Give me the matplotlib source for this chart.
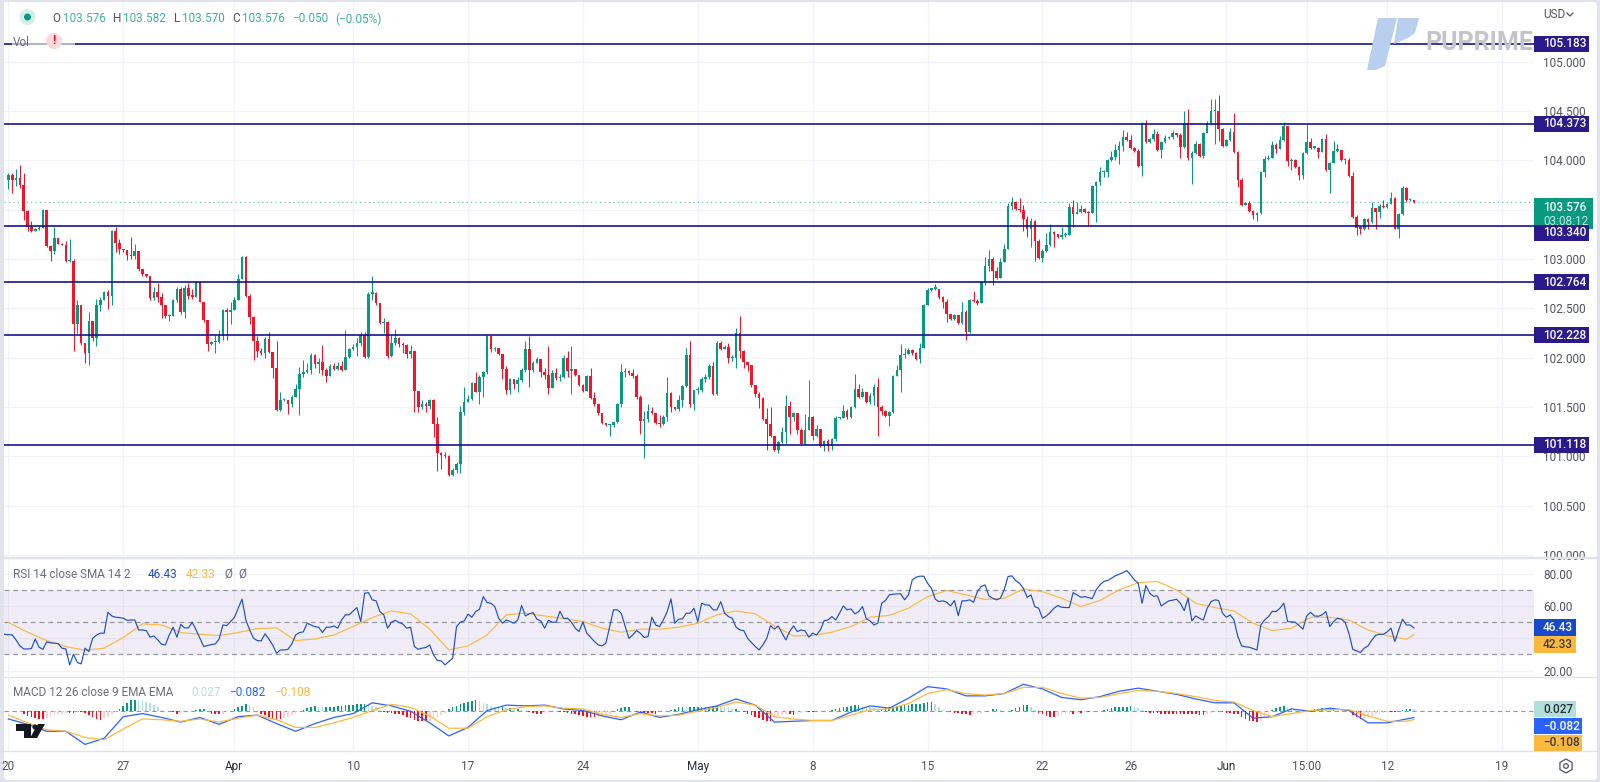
#!/usr/bin/env python3
import numpy as np
import matplotlib
matplotlib.use("Agg")
import matplotlib.pyplot as plt
from matplotlib.patches import Rectangle, Polygon, Circle, FancyBboxPatch, RegularPolygon
from matplotlib.transforms import IdentityTransform

plt.rcParams["font.family"] = ["Roboto", "DejaVu Sans"]

W, H = 1600, 782

COL_UP = "#089981"
COL_DOWN = "#f7142a"
COL_LEVEL = "#0a0a8c"
COL_TAG = "#2a1a8c"
COL_GRID = "#f0f3fa"
COL_SEP = "#e0e3eb"
COL_TEXT = "#50535e"
COL_RSI = "#1f4fcc"
COL_MACD = "#2962ff"
COL_ORANGE = "#fdb83e"

# 4h candles, the open of each one is the close before it
first_open = 103.80
closes = [
    103.85,103.80,103.82,103.75,103.49,103.33,103.28,103.30,103.32,103.50,103.13,103.08,103.21,103.15,103.14,
    102.98,102.98,102.34,102.53,102.15,102.05,102.37,102.20,102.53,102.58,102.67,102.63,103.28,103.16,103.10,103.09,
    103.04,103.03,103.08,102.90,102.85,102.83,102.61,102.67,102.62,102.53,102.42,102.42,102.58,102.70,102.46,
    102.71,102.63,102.62,102.77,102.56,102.38,102.14,102.16,102.16,102.22,102.48,102.46,102.48,102.59,102.80,
    103.02,102.63,102.41,102.17,102.07,102.05,102.19,102.06,101.90,101.47,101.57,101.57,101.53,101.60,101.68,101.83,
    101.85,101.88,102.03,101.94,101.96,101.88,101.81,101.92,101.89,101.92,101.88,102.01,102.09,102.11,102.15,102.23,
    102.01,102.65,102.66,102.55,102.35,102.36,102.02,102.15,102.20,102.14,102.13,102.04,102.07,101.66,101.50,
    101.53,101.51,101.57,101.33,101.03,101.01,101.00,100.81,100.86,100.92,101.45,101.55,101.58,101.74,101.65,101.80,
    101.85,102.22,102.09,102.10,102.04,101.89,
    101.67,101.78,101.73,101.77,101.88,102.09,101.88,101.95,101.99,101.85,101.82,101.69,101.84,101.79,
    101.80,102.00,101.87,101.89,101.82,101.72,101.66,101.81,101.59,101.53,101.44,101.34,101.32,101.32,101.35,101.53,
    101.85,101.86,101.84,101.81,101.60,101.36,101.38,101.46,101.44,101.34,101.33,101.40,101.64,101.50,101.48,101.57,
    101.71,102.03,101.53,101.67,101.67,101.78,101.80,101.92,101.63,102.15,102.09,102.11,102.00,102.00,102.25,102.07,
    101.96,101.93,101.72,101.63,101.59,101.38,101.33,101.21,101.06,101.15,101.25,101.51,101.40,101.44,101.27,101.12,
    101.27,101.40,101.21,101.28,101.10,101.16,101.10,101.18,101.39,101.39,101.46,101.40,101.50,101.68,101.60,
    101.65,101.55,101.61,101.70,101.50,101.46,101.41,101.45,101.81,101.88,102.03,102.04,102.08,102.05,101.99,102.10,
    102.53,102.69,102.70,102.70,102.62,102.56,102.44,102.39,102.43,102.35,102.46,102.26,102.58,102.57,
    102.55,102.77,
    102.93,103.00,102.88,102.81,102.97,103.10,103.54,103.58,103.51,103.50,103.41,103.30,103.39,103.18,
    103.01,103.08,103.14,103.27,103.25,103.22,103.24,103.24,103.53,103.46,103.48,103.51,103.48,103.47,103.74,
    103.78,103.88,103.88,104.00,104.04,104.11,104.15,104.24,104.21,104.13,104.10,103.94,104.38,104.19,104.22,104.27,
    104.11,104.19,104.23,104.24,104.28,104.26,104.14,104.38,104.03,104.08,104.17,104.05,104.28,104.38,104.50,104.50,
    104.32,104.15,104.21,104.29,104.09,103.80,103.55,103.57,103.49,103.45,103.47,103.88,104.01,104.03,104.16,104.12,
    104.21,104.35,103.99,104.00,103.93,103.85,104.08,104.19,104.13,104.13,104.09,104.22,103.90,103.97,104.10,
    104.11,104.00,104.00,103.84,103.43,103.32,103.31,103.41,103.38,103.52,103.48,103.54,103.53,103.56,103.62,103.31,
    103.46,103.72,103.60,103.60,103.576,
]
highs = [
    103.87,103.87,103.91,103.95,103.87,103.50,103.39,103.32,103.34,103.51,103.50,103.14,103.33,103.21,103.16,
    103.18,103.20,103.00,102.58,102.53,102.15,102.46,102.37,102.60,102.62,102.68,102.69,103.29,103.33,103.20,103.10,
    103.09,103.22,103.15,103.08,102.90,102.85,102.83,102.72,102.76,102.66,102.53,102.44,102.60,102.72,102.72,
    102.74,102.76,102.70,102.78,102.78,102.56,102.38,102.17,102.23,102.28,102.49,102.50,102.56,102.62,102.85,
    103.03,103.03,102.65,102.42,102.22,102.10,102.21,102.26,102.06,102.17,101.65,101.59,101.57,101.62,101.73,101.91,
    101.98,101.95,102.05,102.04,102.00,102.13,101.90,101.94,101.95,101.96,101.97,102.28,102.10,102.14,102.20,102.26,
    102.26,102.67,102.83,102.67,102.52,102.40,102.37,102.23,102.29,102.21,102.16,102.14,102.13,102.07,101.66,
    101.57,101.55,101.58,101.58,101.40,101.04,101.04,101.01,100.88,100.94,101.51,101.70,101.62,101.75,101.85,101.82,
    101.87,102.23,102.22,102.11,102.10,102.04,
    101.92,101.79,101.78,101.80,101.90,102.17,102.22,101.97,102.01,101.99,101.90,102.12,101.88,101.90,
    101.83,102.03,102.07,102.12,101.89,101.82,101.73,101.82,101.90,101.65,101.53,101.44,101.34,101.33,101.36,101.54,
    101.94,101.90,101.88,101.89,101.83,101.62,101.46,101.53,101.50,101.42,101.42,101.42,101.80,101.65,101.50,101.62,
    101.72,102.10,102.17,101.67,101.70,101.80,101.83,101.94,101.96,102.17,102.17,102.13,102.15,102.03,102.30,102.42,
    102.08,101.95,101.90,101.72,101.65,101.60,101.49,101.50,101.21,101.16,101.30,101.62,101.56,101.45,101.37,101.29,
    101.43,101.77,101.41,101.32,101.25,101.17,101.18,101.19,101.41,101.40,101.52,101.48,101.51,101.83,101.73,
    101.69,101.65,101.64,101.73,101.79,101.52,101.47,101.46,101.82,101.93,102.14,102.10,102.10,102.09,102.06,102.15,
    102.54,102.71,102.71,102.75,102.70,102.63,102.60,102.44,102.44,102.42,102.56,102.48,102.60,102.68,
    102.60,102.78,
    103.02,103.09,103.02,102.92,103.01,103.15,103.57,103.63,103.59,103.62,103.55,103.44,103.42,103.40,
    103.20,103.10,103.26,103.36,103.28,103.25,103.33,103.27,103.57,103.60,103.58,103.55,103.52,103.49,103.75,
    103.79,103.93,103.90,104.01,104.10,104.17,104.20,104.31,104.29,104.26,104.14,104.12,104.39,104.41,104.23,104.32,
    104.30,104.20,104.26,104.25,104.31,104.28,104.28,104.50,104.52,104.10,104.20,104.18,104.29,104.40,104.62,104.62,
    104.66,104.33,104.22,104.33,104.48,104.10,103.82,103.58,103.59,103.50,103.48,103.89,104.05,104.06,104.20,104.18,
    104.25,104.39,104.35,104.02,104.01,103.94,104.09,104.37,104.23,104.14,104.14,104.23,104.27,103.98,104.20,
    104.17,104.07,104.02,104.02,103.88,103.45,103.34,103.42,103.42,103.58,103.52,103.56,103.60,103.57,103.68,103.63,
    103.47,103.74,103.73,103.62,103.582,
]
lows = [
    103.71,103.67,103.74,103.72,103.40,103.28,103.27,103.28,103.29,103.32,103.12,102.98,103.05,103.15,103.14,
    102.97,102.97,102.07,102.25,102.13,101.95,101.93,102.17,102.12,102.47,102.60,102.49,102.53,103.07,103.05,103.07,
    102.99,103.00,103.00,102.88,102.83,102.82,102.58,102.58,102.56,102.40,102.40,102.37,102.42,102.56,102.44,
    102.40,102.60,102.60,102.62,102.56,102.36,102.07,102.13,102.05,102.15,102.18,102.18,102.34,102.50,102.58,
    102.85,102.62,102.34,101.98,102.01,102.03,102.00,102.05,101.79,101.46,101.46,101.56,101.43,101.50,101.60,101.42,
    101.80,101.84,101.83,101.90,101.84,101.82,101.75,101.81,101.88,101.88,101.87,101.88,102.00,102.08,102.02,102.12,
    102.00,102.00,102.58,102.53,102.34,102.25,102.00,102.01,102.13,102.11,102.05,102.00,102.00,101.45,101.45,
    101.48,101.45,101.48,101.20,100.85,100.87,100.98,100.80,100.80,100.83,100.83,101.42,101.55,101.57,101.65,101.53,
    101.60,101.83,102.06,102.07,102.03,101.78,
    101.63,101.63,101.68,101.65,101.75,101.85,101.70,101.85,101.97,101.80,101.78,101.63,101.69,101.77,
    101.76,101.79,101.80,101.63,101.81,101.71,101.65,101.66,101.58,101.51,101.42,101.33,101.31,101.21,101.30,101.34,
    101.50,101.80,101.82,101.79,101.58,101.23,100.98,101.35,101.43,101.33,101.30,101.32,101.36,101.45,101.47,101.46,
    101.50,101.70,101.50,101.47,101.63,101.65,101.75,101.78,101.62,101.62,102.08,102.10,101.95,101.97,101.90,102.00,
    101.90,101.87,101.70,101.60,101.49,101.37,101.06,101.20,101.05,101.03,101.13,101.13,101.23,101.36,101.23,101.12,
    101.12,101.28,101.17,101.20,101.09,101.05,101.05,101.06,101.16,101.38,101.39,101.38,101.39,101.49,101.59,
    101.60,101.54,101.53,101.52,101.21,101.42,101.40,101.31,101.44,101.81,101.65,102.00,102.04,102.03,101.98,101.95,
    102.10,102.53,102.68,102.69,102.60,102.50,102.36,102.38,102.38,102.34,102.34,102.18,102.25,102.56,
    102.53,102.55,
    102.74,102.88,102.74,102.80,102.81,102.97,103.10,103.50,103.50,103.48,103.28,103.22,103.12,102.98,
    103.00,102.97,103.07,103.13,103.12,103.21,103.20,103.22,103.24,103.33,103.47,103.47,103.47,103.34,103.47,
    103.38,103.75,103.83,103.83,103.99,104.00,103.96,104.10,104.20,104.12,104.09,103.93,103.84,104.18,104.18,104.20,
    104.10,104.03,104.18,104.22,104.22,104.24,104.03,104.13,104.00,103.76,104.07,104.04,104.02,104.28,104.36,104.17,
    104.20,104.14,104.15,104.20,104.08,103.73,103.54,103.55,103.48,103.41,103.39,103.46,103.83,104.00,104.03,104.08,
    104.12,104.20,103.94,103.90,103.92,103.80,103.81,104.07,104.12,104.12,104.02,104.09,103.89,103.67,103.97,
    104.09,103.99,103.96,103.83,103.42,103.24,103.25,103.29,103.30,103.37,103.30,103.42,103.52,103.52,103.56,103.30,
    103.21,103.45,103.58,103.59,103.570,
]

# horizontal levels and their labels
levels = [105.183, 104.373, 103.340, 102.764, 102.228, 101.118]
last_price = 103.576
price_ticks = [100.0, 100.5, 101.0, 101.5, 102.0, 102.5, 103.0, 103.5, 104.0, 104.5, 105.0]
price_labels = ["100.000", "100.500", "101.000", "101.500", "102.000", "102.500", "103.000", "", "104.000", "104.500", "105.000"]
rsi_ticks = [80, 60, 40, 20]
rsi_labels = ["80.00", "60.00", "", "20.00"]

# x axis, bar number and label
x_ticks = [0, 30, 59, 90, 120, 150, 180, 210, 240, 270, 293, 318, 339, 360, 390]
x_labels = ["20", "27", "Apr", "10", "17", "24", "May", "8", "15", "22", "26", "Jun", "15:00", "12", "19"]

rsi = [
    42.5,42.3,42.1,39,35.3,33.4,33.4,33.6,39.6,34.5,33.2,37.8,37.2,37,36.7,33.9,33.4,23.5,30.1,25,24.1,33.9,31.8,40,42,43.2,
    43.2,56.2,53.9,53.1,52.9,52.5,51.2,51.4,51.4,45.2,45.2,44.8,40.7,41.5,39,36.3,35.9,42.1,46.9,40.7,48.6,46.5,46.5,50,
    45.2,40,34.9,35.5,36.1,36.5,39.4,48.3,47.9,50.4,52.9,58.7,64.3,51.4,45.2,40,38.6,38.4,42.8,39.6,35.9,30.7,32.8,32.8,
    33.2,36.5,42.1,43.6,44,49.4,48.3,47.3,46.9,43.6,46.9,46.9,47.7,46.3,51.4,54.6,54.6,57,59.1,50.4,68,68.4,63.9,63.3,
    56.6,54.6,46.3,50,51.2,49.8,48.8,46.3,46.9,34.9,33.2,33.9,34.3,35.9,29.7,26.2,26,23.5,25.6,27.6,47.3,50,50.8,55,53.1,
    56.6,58.1,65.9,62.2,61.8,59.7,52.5,
    49.4,51.4,50.4,49.4,51.4,60.4,53.9,55.2,56,51.9,50.8,46.3,51.2,50,50,56.8,52.3,52.5,50,46.3,44.2,50.2,43.2,40.7,38,
    35.9,35.3,37,47.3,57.7,57.7,55.6,47.7,40,42.1,44.8,43.2,40.5,41.1,53.1,48.3,47.3,51.4,56.6,64.5,49.4,51.9,52.1,55.6,
    55.6,58.7,50.4,61.8,60.8,60.6,57.7,57.7,62.8,55.6,53.5,52.5,46.9,45.2,44.8,40,37.4,34.9,32.8,35.9,40,47.9,45.7,47.7,
    43.2,39,44.2,47.7,44.2,45.2,44.6,40.7,43.2,42.1,45.2,51,51.4,53.5,51.4,55.6,60.1,57.7,58.3,55.2,56.6,59.7,52.1,50.8,
    48.3,49.4,61.8,63.5,67,67.4,67.6,67.6,63.9,67,76.3,78,78.6,78.6,74.2,71.1,64.3,62.8,63.3,62.4,60.1,63.5,54.1,63.3,
    63.3,63.9,62.4,69,72.2,73.2,66.4,64.9,63.9,
    64.9,70.1,78.4,78.8,75.9,74.2,71.1,65.5,67,59.7,58.7,52.5,53.9,56,58.7,60.4,59.3,59.1,59.1,68.4,67,65.5,65.9,65.3,
    64.7,70.1,73.2,75.3,75.9,77.3,78.8,79.8,80.8,82.1,79.4,76.3,74.2,61.8,72.8,68,66.1,66.4,60.1,61.8,63.3,63.7,64.3,
    61.8,57.2,64.9,50.8,53.9,52.5,51.4,58.7,62.8,63.9,63.5,55.6,53.1,54.6,51.4,41.1,35.3,34.7,34.5,33.6,32.8,48.3,51.4,
    53.5,56.8,56.6,58.7,61.8,50.4,50.2,50,47.9,45.7,53.9,56.2,53.9,53.7,54.6,56.6,47.3,50.4,52.5,51.9,50,43.2,33.2,32.2,
    31.2,33.9,35.3,39,41.9,42.5,42.5,44,46.3,38,45.2,51.9,48.3,48.3,46.43,
]

# slower lines, read every 5th bar
slow_bars = list(range(0, 366, 5)) + [367]
rsi_sma = [
    49.8,43.8,38.6,34.9,32.6,33.9,40.5,49,48.3,43.6,42.5,41.7,43.6,46.1,46.5,38.6,39.6,42.1,47.3,52.9,57,55.2,45.7,32.8,35.3,42.1,
    54.6,55.6,53.9,52.3,50.4,46.3,43.8,45.7,45.7,46.9,49.4,54.6,57,55.2,47.7,41.5,41.7,43.8,47.3,53.1,54.3,58.7,65.9,69.7,67,64.1,
    64.9,70.7,69,64.9,59.7,63.5,70.1,74.6,75.3,70.1,61.8,59.1,57,49.4,44.8,46.3,53.1,53.1,51.4,45.2,41.7,39.4,42.33,
]
macd = [
    -.10,-.17,-.26,-.26,-.43,-.35,-.07,-.03,-.08,-.14,-.08,-.17,-.07,-.05,-.16,-.26,-.16,-.08,-.03,.11,.07,0,-.15,-.32,-.21,.01,
    .08,.07,.08,.03,.01,-.06,-.11,-.01,-.08,-.04,.02,.07,.16,.08,-.14,-.13,-.12,-.12,-.01,.07,.04,.17,.32,.29,.20,.20,
    .23,.35,.29,.18,.15,.19,.26,.30,.26,.22,.16,.11,.11,-.09,-.07,.03,0,.04,.01,-.15,-.15,-.10,-.082,
]
signal = [
    -.05,-.15,-.24,-.26,-.34,-.37,-.23,-.10,-.11,-.13,-.10,-.14,-.09,-.05,-.11,-.21,-.21,-.15,-.08,.01,.09,.05,-.06,-.22,-.22,-.07,
    .02,.06,.07,.04,.03,-.04,-.08,-.03,-.06,-.05,0,.05,.12,.08,-.07,-.10,-.12,-.12,-.05,.02,.03,.10,.23,.28,.23,.21,
    .23,.31,.31,.23,.17,.18,.23,.27,.26,.23,.19,.14,.12,.01,-.07,-.03,.01,.02,.02,-.06,-.13,-.13,-.108,
]
hist = [
    -.04,-.06,-.07,-.09,-.10,-.10,-.09,-.07,-.05,-.04,-.03,-.02,-.02,-.02,-.01,-.01,-.02,-.05,-.08,-.10,-.11,-.09,-.07,-.04,-.01,
    .03,.07,.11,.14,.15,.14,.13,.12,.11,.08,.05,.02,.01,.00,-.01,-.03,-.02,.00,.01,.01,.02,.03,.03,.01,-.03,-.04,-.04,-.03,-.01,
    .01,.03,.05,.07,.09,.08,.05,.02,-.03,-.05,-.07,-.09,-.10,-.10,-.09,-.07,-.05,-.03,-.01,.02,.04,.06,.07,.06,.05,.05,.06,.06,
    .07,.07,.08,.08,.08,.09,.09,.09,.08,.07,.05,.02,-.01,-.02,-.02,-.03,-.04,-.05,-.07,-.09,-.11,-.12,-.12,-.13,-.12,-.10,-.08,
    -.05,-.02,.03,.05,.07,.09,.11,.12,.13,.14,.13,.11,
    .09,.07,.06,.05,.05,.04,.04,.03,.03,.02,.01,-.01,-.02,-.03,-.03,-.02,-.01,0,0,-.01,-.01,-.02,-.03,-.04,-.05,-.06,-.07,-.08,
    -.08,-.07,-.06,-.05,-.03,0,.03,.04,.05,.05,0,-.01,-.02,-.02,-.02,-.02,-.03,0,.01,.01,.02,.03,.05,.06,.05,.05,.05,.05,.05,
    .06,.06,.07,.07,.06,.05,.04,.03,.03,0,-.01,-.03,-.05,-.07,-.09,-.11,-.12,-.12,-.09,-.06,-.05,-.04,-.04,-.05,-.03,-.02,-.01,
    -.01,-.01,0,0,0,.01,.02,.03,.04,.05,.06,.07,.08,.08,.07,.06,.05,.04,.03,.03,.04,.05,.06,.07,.07,.08,.08,.09,.09,.10,.11,.12,
    .12,.10,.06,.02,0,-.01,-.02,-.02,-.03,-.04,-.05,-.04,-.03,-.02,0,.01,.03,.03,.02,.01,
    .01,.02,.04,.06,.08,.08,.05,.02,-.02,-.04,-.06,-.07,-.07,-.06,-.05,-.04,-.03,-.03,-.02,-.02,-.01,-.01,0,.01,.01,.02,.03,.04,
    .05,.05,.06,.06,.07,.06,.04,.02,-.01,-.02,-.02,-.02,-.03,-.03,-.03,-.03,-.03,-.03,-.03,-.04,-.04,-.04,-.05,-.05,-.04,-.02,
    -.01,0,-.01,-.02,-.02,-.03,-.04,-.08,-.10,-.12,-.13,-.14,-.13,-.08,-.04,.02,.04,.05,.07,.05,.04,.02,.01,.01,.01,.02,.03,.03,
    .04,.03,.02,.02,.01,.01,0,.01,-.05,-.08,-.10,-.09,-.08,-.06,-.04,-.03,-.02,-.01,-.01,-.01,.01,.02,.03,.03,.027,
]


def pane(top, bottom):
    return [4 / W, 1 - bottom / H, 1530 / W, (bottom - top) / H]


def label(x, y, s, color=COL_TEXT, size=8.5, ha="left", **kwargs):
    return fig.text(x / W, 1 - y / H, s, color=color, fontsize=size, ha=ha, va="center", zorder=12, **kwargs)


def tag(ax, value, s, fc, tc="white", width=55, dy=0, height=16):
    yc = ax.transData.transform((0, value))[1] - dy
    fig.add_artist(Rectangle((1534, yc - height / 2), width, height, transform=IdentityTransform(),
                             facecolor=fc, edgecolor="none", zorder=10))
    label(1543, H - yc, s, color=tc, weight="medium")


def fig_poly(points, color, zorder=9):
    pts = [(x, H - y) for x, y in points]
    fig.add_artist(Polygon(pts, closed=True, transform=IdentityTransform(), facecolor=color,
                           edgecolor="none", zorder=zorder))


def fig_hline(y, color=COL_SEP, lw=1.0):
    fig.add_artist(plt.Line2D([4, 1597], [H - y, H - y], transform=IdentityTransform(), color=color, lw=lw, zorder=6))


def histogram_colors(values):
    cols = []
    prev = 0.0
    for v in values:
        if v >= 0:
            cols.append(COL_UP if v >= prev else "#b2dfdb")
        else:
            cols.append("#ff0a1a" if v <= prev else "#ffcdd2")
        prev = v
    return cols


fig = plt.figure(figsize=(W / 100, H / 100), dpi=100, facecolor=COL_SEP)
fig.add_artist(FancyBboxPatch((4, H - 780), 1593, 778, boxstyle="round,pad=0,rounding_size=4",
                              transform=IdentityTransform(), facecolor="white", edgecolor="none", zorder=-1))

ax_price = fig.add_axes(pane(2, 556))
ax_rsi = fig.add_axes(pane(558, 676))
ax_macd = fig.add_axes(pane(677, 750.7))

n = len(closes)
bars = np.arange(n) + (368 - n)
opens = np.array([first_open] + closes[:-1])
closes_a = np.array(closes)
highs_a = np.maximum(np.array(highs), np.maximum(opens, closes_a))
lows_a = np.minimum(np.array(lows), np.minimum(opens, closes_a))
up = closes_a >= opens
colors = [COL_UP if u else COL_DOWN for u in up]

xlim = (-1.15, 398.33)

# price pane
ax_price.vlines(bars, lows_a, highs_a, colors=colors, lw=0.75, zorder=3)
ax_price.bar(bars, np.maximum(np.abs(closes_a - opens), 0.012), bottom=np.minimum(opens, closes_a),
             width=0.68, color=colors, linewidth=0, zorder=4)
for lv in levels:
    ax_price.axhline(lv, color=COL_LEVEL, lw=1.15, zorder=5)
ax_price.axhline(last_price, color=COL_UP, lw=0.8, ls=(0, (1, 3)), alpha=0.7, zorder=2)
ax_price.set_ylim(99.989, 105.607)
ax_price.set_yticks(price_ticks)
ax_price.set_yticklabels(price_labels)

# rsi pane
ax_rsi.axhspan(30, 70, color="#7e57c2", alpha=0.1, lw=0, zorder=1)
for v in [70, 50, 30]:
    ax_rsi.axhline(v, color="#9598a1", lw=0.9, ls=(0, (4, 3)), zorder=2)
ax_rsi.plot(np.arange(len(rsi)) + (368 - len(rsi)), rsi, color=COL_RSI, lw=0.85, zorder=4)
ax_rsi.plot(slow_bars, rsi_sma, color=COL_ORANGE, lw=0.85, zorder=3)
ax_rsi.set_ylim(16.6, 89.9)
ax_rsi.set_yticks(rsi_ticks)
ax_rsi.set_yticklabels(rsi_labels)

# macd pane
ax_macd.axhline(0, color="#9598a1", lw=0.8, ls=(0, (4, 3)), zorder=2)
ax_macd.bar(np.arange(len(hist)) + (368 - len(hist)), hist, width=0.42, color=histogram_colors(hist), linewidth=0, zorder=3)
ax_macd.plot(slow_bars, macd, color=COL_MACD, lw=0.9, zorder=4)
ax_macd.plot(slow_bars, signal, color=COL_ORANGE, lw=0.9, zorder=4)
ax_macd.set_ylim(-0.512, 0.445)
ax_macd.set_yticks([])

for ax in (ax_price, ax_rsi, ax_macd):
    ax.set_xlim(*xlim)
    ax.set_xticks(x_ticks)
    ax.set_facecolor("white")
    ax.grid(True, color=COL_GRID, lw=0.9, zorder=0)
    ax.set_axisbelow(True)
    ax.yaxis.tick_right()
    ax.tick_params(length=0, labelsize=8.5, labelcolor=COL_TEXT, pad=6.5, labelbottom=False)
    for s in ax.spines.values():
        s.set_visible(False)
ax_macd.tick_params(axis="x", labelbottom=True, pad=7)
ax_macd.set_xticklabels(x_labels)
for t, s in zip(ax_macd.get_xticklabels(), x_labels):
    if s in ("Apr", "May", "Jun"):
        t.set_color("#2a2e39")

for y in (556.5, 558, 676.5, 750.7):
    fig_hline(y)

# tags on the right axis, the green one sits under the 103.340 tag
yc = ax_price.transData.transform((0, last_price))[1]
fig.add_artist(Rectangle((1534, yc - 27), 59, 31, transform=IdentityTransform(), facecolor=COL_UP, edgecolor="none", zorder=10))
label(1543, H - yc + 5, "103.576", color="white", weight="medium")
label(1543, H - yc + 19, "03:08:12", color="#c4e8e2")
for lv in levels:
    tag(ax_price, lv, f"{lv:.3f}", COL_TAG, dy=7 if lv == 103.340 else 0)
tag(ax_rsi, 46.43, "46.43", "#1848cc", width=42, height=17)
tag(ax_rsi, 42.33, "42.33", COL_ORANGE, tc="#3a3a3a", width=42, height=17, dy=9.5)
tag(ax_macd, 0.027, "0.027", "#b2dfdb", tc="#2a2e39", width=42, height=16)
tag(ax_macd, -0.082, "\u22120.082", COL_MACD, width=48, dy=8.5, height=16)
tag(ax_macd, -0.108, "\u22120.108", COL_ORANGE, tc="#3a3a3a", width=48, dy=23, height=16)

# header legend
fig.add_artist(Circle((27.5, H - 17), 8, transform=IdentityTransform(), facecolor="#d5eeea", edgecolor="none", zorder=9))
fig.add_artist(Circle((27.5, H - 17), 3.5, transform=IdentityTransform(), facecolor=COL_UP, edgecolor="none", zorder=10))
ohlc_parts = [(52, "O", COL_TEXT), (63, "103.576", "#3fb09c"), (113, "H", COL_TEXT), (123, "103.582", "#3fb09c"),
              (174, "L", COL_TEXT), (182, "103.570", "#3fb09c"), (232, "C", COL_TEXT), (242, "103.576", "#3fb09c"),
              (292, "\u22120.050", "#3fb09c"), (335, "(\u22120.05%)", "#3fb09c")]
for x, s, c in ohlc_parts:
    label(x, 19, s, color=c)
fig.add_artist(Rectangle((12, H - 50), 63, 16, transform=IdentityTransform(), facecolor="white", edgecolor="none", alpha=0.6, zorder=8))
label(13, 42, "Vol", color="#6a6d78")
fig.add_artist(Circle((54, H - 41), 8, transform=IdentityTransform(), facecolor="#fbd9dc", edgecolor="none", zorder=9))
label(54, 41, "!", color="#e01020", ha="center", weight="bold")
label(1543, 14, "USD", color="#50535e")
fig.add_artist(plt.Line2D([1567, 1570, 1573], [H - 13, H - 16, H - 13], transform=IdentityTransform(), color="#50535e", lw=0.9, zorder=12))

# pane legends
label(13, 574, "RSI 14 close SMA 14 2", color="#6a6d78")
label(148, 574, "46.43", color=COL_RSI)
label(186, 574, "42.33", color=COL_ORANGE)
label(224, 574, "\u00d8", color="#6a6d78")
label(238, 574, "\u00d8", color="#6a6d78")
label(13, 693, "MACD 12 26 close 9 EMA EMA", color="#6a6d78")
label(191, 693, "0.027", color="#b2dfdb")
label(229, 693, "\u22120.082", color=COL_MACD)
label(274, 693, "\u22120.108", color=COL_ORANGE)

# watermark
fig_poly([(1378, 18), (1397, 18), (1385, 66), (1376, 70), (1367, 70)], "#b9cfee", zorder=7)
fig_poly([(1398, 18), (1419, 18), (1415, 33), (1408, 38), (1394, 44)], "#b9cfee", zorder=7)
label(1425, 43.5, "PUPRIME", color="#c3c5cb", size=18, weight="bold").set_zorder(7)

# chart logo
fig_poly([(16, 724), (31, 724), (31, 738), (24, 738), (24, 731), (16, 731)], "#131722")
fig.add_artist(Circle((35, H - 727), 2.6, transform=IdentityTransform(), facecolor="#131722", edgecolor="none", zorder=9))
fig_poly([(38, 724), (45, 724), (37, 738), (30, 738)], "#131722")

# settings icon
fig.add_artist(RegularPolygon((1566, H - 766), 6, radius=7, transform=IdentityTransform(), facecolor="none",
                              edgecolor="#50535e", lw=0.9, zorder=10))
fig.add_artist(Circle((1566, H - 766), 2.3, transform=IdentityTransform(), facecolor="none", edgecolor="#50535e", lw=0.9, zorder=10))

fig.savefig("out.png", dpi=100, facecolor=fig.get_facecolor())
